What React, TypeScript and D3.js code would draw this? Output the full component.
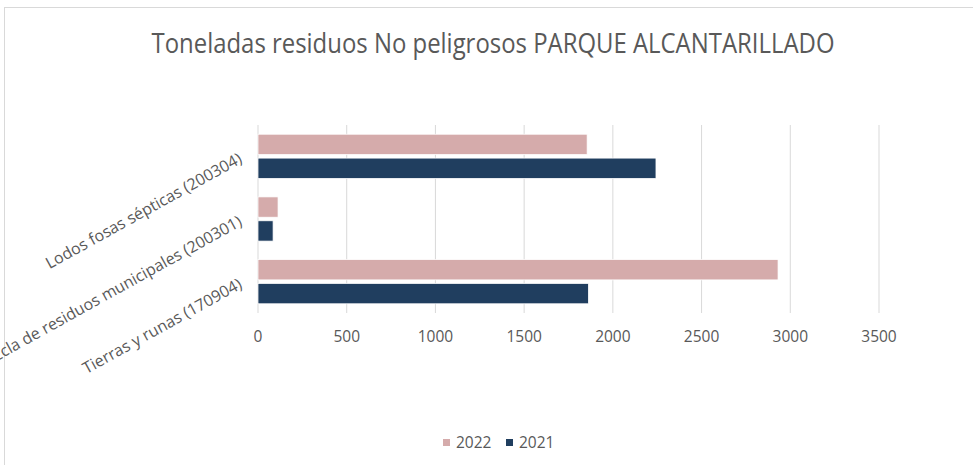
import React from "react";
import * as d3 from "d3";

const categories = [
  "Lodos fosas sépticas (200304)",
  "Mezcla de residuos municipales (200301)",
  "Tierras y runas (170904)",
];
const series = ["2022", "2021"];
const values2022 = [1855, 113, 2931];
const values2021 = [2243, 85, 1862];
const xTicks = [0, 500, 1000, 1500, 2000, 2500, 3000, 3500];

const colors: Record<string, string> = { "2022": "#D5ABAB", "2021": "#203E5F" };
const textColor = "#595959";
const gridColor = "#D9D9D9";
const font = "'Open Sans', sans-serif";

export default function App() {
  const W = 973;
  const H = 465;
  const x = d3.scaleLinear().domain([0, 3500]).range([258, 879]);
  const y = d3.scaleBand<string>().domain(categories).range([125, 313]).paddingInner(0.295).paddingOuter(0.147);
  const inner = d3.scaleBand<string>().domain(series).range([0, y.bandwidth()]).paddingInner(0.15);
  const byYear: Record<string, number[]> = { "2022": values2022, "2021": values2021 };

  return (
    <svg
      width={W}
      height={H}
      style={{ position: "absolute", left: 0, top: 0, background: "#fff" }}
      fontFamily={font}
    >
      <rect x={4.5} y={7.5} width={W + 10} height={H + 10} fill="#fff" stroke="#D9D9D9" strokeWidth={1} />
      <text
        x={493}
        y={53}
        textAnchor="middle"
        fontSize={28}
        fill={textColor}
        textLength={683}
        lengthAdjust="spacingAndGlyphs"
      >
        Toneladas residuos No peligrosos PARQUE ALCANTARILLADO
      </text>

      {xTicks.map((t) => (
        <g key={t}>
          <line x1={x(t)} x2={x(t)} y1={125} y2={313} stroke={gridColor} strokeWidth={1} />
          <text x={x(t)} y={342} textAnchor="middle" fontSize={15.5} fill={textColor}>
            {t}
          </text>
        </g>
      ))}

      {categories.map((c, i) => (
        <g key={c}>
          {series.map((s) => (
            <rect
              key={s}
              x={x(0)}
              y={(y(c) as number) + (inner(s) as number)}
              width={x(byYear[s][i]) - x(0)}
              height={inner.bandwidth()}
              fill={colors[s]}
              stroke="#fff"
              strokeWidth={0.75}
            />
          ))}
          <text
            transform={`translate(241, ${(y(c) as number) + y.bandwidth() / 2 + 2}) rotate(-29)`}
            textAnchor="end"
            dominantBaseline="middle"
            fontSize={16}
            fill={textColor}
          >
            {c}
          </text>
        </g>
      ))}

      {series.map((s, i) => {
        const lx = 443 + i * 63;
        return (
          <g key={s}>
            <rect x={lx} y={439} width={7} height={7} fill={colors[s]} />
            <text x={lx + 13} y={447.5} fontSize={15.5} fill={textColor}>
              {s}
            </text>
          </g>
        );
      })}
    </svg>
  );
}
